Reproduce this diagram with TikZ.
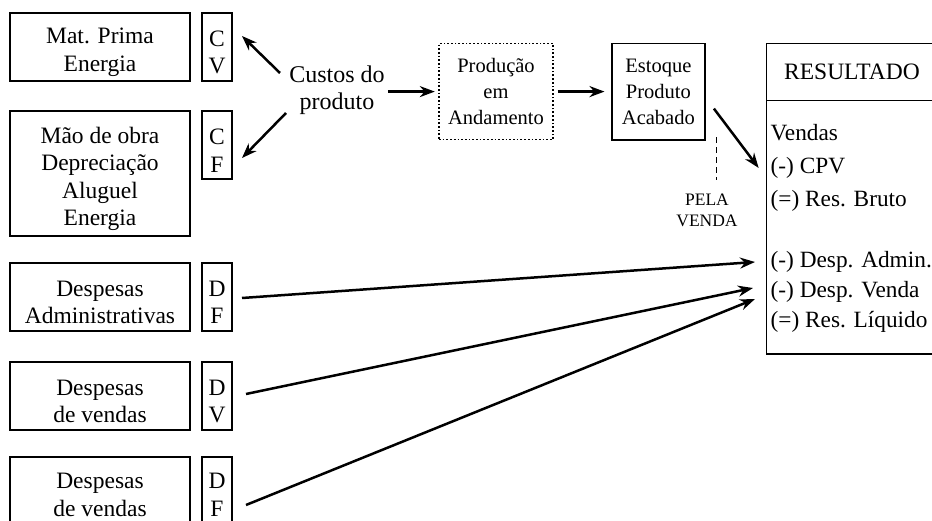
\documentclass[tikz,border=0pt]{standalone}
\usepackage{fontspec}
\setmainfont{Liberation Serif}
\usetikzlibrary{arrows.meta}
\begin{document}
\begin{tikzpicture}[x=1pt,y=-1pt,
  box/.style={draw,line width=1.7pt,inner sep=0pt},
  txt/.style={align=center,inner sep=0pt,font=\fontsize{23.5}{27.5}\selectfont},
  lbox/.style={box,minimum width=180pt,minimum height=68pt},
  sbox/.style={box,minimum width=30pt,minimum height=68pt},
  mbox/.style={box,align=center,minimum height=96.4pt,font=\fontsize{20.5}{26}\selectfont},
  arr/.style={line width=2.5pt,-{Stealth[length=15pt,width=11pt]}},
  item/.style={anchor=base west,inner sep=0pt,font=\fontsize{23.3}{28}\selectfont}]
\useasboundingbox (0,0) rectangle (932,521);
% left column
\node[lbox] (mp) at (100,47) {};
\node[txt] (mpt) at ([yshift=-5.5pt]mp.center) {Mat. Prima\\Energia};
\node[sbox] (cv) at (217,47) {};
\node[txt] (cvt) at ([yshift=-5.5pt]cv.center) {C\\V};
\node[lbox,minimum height=125pt] (mo) at (100,173.5) {};
\node[txt] (mot) at ([yshift=-5.5pt]mo.center) {Mão de obra\\Depreciação\\Aluguel\\Energia};
\node[sbox] (cf) at (217,145) {};
\node[txt] (cft) at ([yshift=-5.5pt]cf.center) {C\\F};
\node[lbox] (da) at (100,297) {};
\node[txt] (dat) at ([yshift=-5.5pt]da.center) {Despesas\\Administrativas};
\node[sbox] (df) at (217,297) {};
\node[txt] (dft1) at ([yshift=-5.5pt]df.center) {D\\F};
\node[lbox] (dv1) at (100,396) {};
\node[txt] (dv1t) at ([yshift=-5.5pt]dv1.center) {Despesas\\de vendas};
\node[sbox] (dv) at (217,396) {};
\node[txt] (dvt1) at ([yshift=-5.5pt]dv.center) {D\\V};
\node[lbox] (dv2) at (100,491.3) {};
\node[txt] (dv2t) at ([yshift=-3.5pt]dv2.center) {Despesas\\de vendas};
\node[sbox] (df2) at (217,491.3) {};
\node[txt] (df2t1) at ([yshift=-3.5pt]df2.center) {D\\F};
% custos
\node[align=center,inner sep=0pt,font=\fontsize{24}{27}\selectfont] (cp) at (337,90) {Custos do\\produto};
\coordinate (cpa) at (280,73);
\coordinate (cva) at (242,36);
\coordinate (cpb) at (286,113);
\coordinate (cfa) at (242,158);
\draw[arr] (cpa) -- (cva);
\draw[arr] (cpb) -- (cfa);
% production chain
\node[mbox,dotted,line width=1.4pt,minimum width=114pt] (pa) at (496,91.6) {Produção\\em\\Andamento};
\node[mbox,minimum width=92.7pt] (ep) at (658.4,91.6) {Estoque\\Produto\\Acabado};
\draw[arr] (cp.east |- pa) ++(3,0) coordinate (cpc) -- ([xshift=-3.5pt]pa.west);
\draw[arr,shorten <=3.8pt,shorten >=6.7pt] (pa.east) -- (ep.west);
% resultado
\node[box,minimum width=178.5pt,minimum height=310.6pt] (res) at (855.75,198.7) {};
\coordinate (divl) at (766.5,100.4);
\coordinate (divr) at (945,100.4);
\draw[line width=1.7pt] (divl) -- (divr);
\node[anchor=base,inner sep=0pt,font=\fontsize{23.5}{27}\selectfont] (rt) at (852,79.7) {RESULTADO};
\node[item] (i1) at (770.5,140.8) {Vendas};
\node[item] (i2) at (770.5,173.7) {(-) CPV};
\node[item] (i3) at (770.5,206.3) {(=) Res. Bruto};
\node[item] (i4) at (770.5,268) {(-) Desp. Admin.};
\node[item] (i5) at (770.5,298) {(-) Desp. Venda};
\node[item] (i6) at (770.5,328) {(=) Res. Líquido};
% estoque to resultado
\coordinate (eps) at (713.9,108.6);
\coordinate (rse) at (758.7,168);
\draw[arr] (eps) -- (rse);
\coordinate (dsa) at (716.6,137.4);
\coordinate (dsb) at (716.6,180);
\draw[line width=1.7pt,dash pattern=on 6pt off 4pt] (dsa) -- (dsb);
\node[align=center,inner sep=0pt,font=\fontsize{17.5}{21}\selectfont] (pv) at (707,210.5) {PELA\\VENDA};
% expenses to resultado
\coordinate (dfs) at (242,298);
\coordinate (dft) at (755,262);
\coordinate (dvs) at (246,394);
\coordinate (dvt) at (753,288);
\coordinate (df2s) at (246,505);
\coordinate (df2t) at (755,299);
\draw[arr] (dfs) -- (dft);
\draw[arr] (dvs) -- (dvt);
\draw[arr] (df2s) -- (df2t);
\end{tikzpicture}
\end{document}
